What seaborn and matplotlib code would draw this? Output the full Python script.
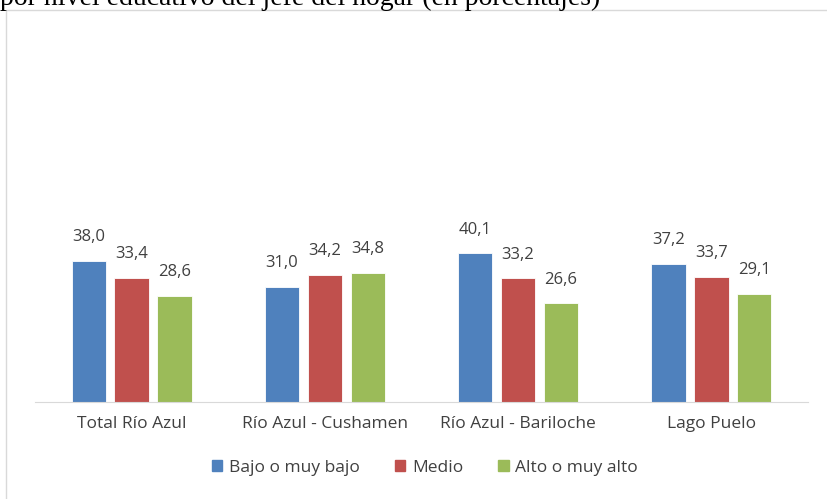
import pandas as pd
import matplotlib.pyplot as plt
import matplotlib.patches as mpatches
import seaborn as sns

# Chart values
zonas = ["Total Río Azul", "Río Azul - Cushamen", "Río Azul - Bariloche", "Lago Puelo"]
niveles = ["Bajo o muy bajo", "Medio", "Alto o muy alto"]
bajo = [38.0, 31.0, 40.1, 37.2]
medio = [33.4, 34.2, 33.2, 33.7]
alto = [28.6, 34.8, 26.6, 29.1]
colores = ["#4F81BD", "#C0504D", "#9BBB59"]

df = pd.DataFrame({"zona": zonas * 3,
                   "nivel": [niveles[0]] * 4 + [niveles[1]] * 4 + [niveles[2]] * 4,
                   "valor": bajo + medio + alto})

sns.set_style("white")
plt.rcParams["font.family"] = ["Open Sans", "DejaVu Sans"]

fig = plt.figure(figsize=(8.27, 4.99), dpi=100)
ax = fig.add_axes([35 / 827, 97 / 499, 773 / 827, 372 / 499])

sns.barplot(data=df, x="zona", y="valor", hue="nivel", palette=colores, saturation=1,
            width=0.665, gap=0.2, ax=ax, legend=False, edgecolor="white", linewidth=0.6)

for cont in ax.containers:
    ax.bar_label(cont, labels=[f"{v:.1f}".replace(".", ",") for v in cont.datavalues],
                 padding=11, fontsize=12, color="#404040")

ax.set_ylim(0, 100)
ax.set_xlim(-0.5, 3.5)
ax.set_xlabel("")
ax.set_ylabel("")
ax.set_yticks([])
ax.tick_params(axis="x", length=0, labelsize=12.5, labelcolor="#404040", pad=10)
for s in ["top", "right", "left"]:
    ax.spines[s].set_visible(False)
ax.spines["bottom"].set_color("#D9D9D9")

handles = [mpatches.Patch(color=c, label=n) for c, n in zip(colores, niveles)]
fig.legend(handles=handles, loc="center", bbox_to_anchor=(425 / 827, 1 - 468 / 499),
           ncol=3, frameon=False, fontsize=12.5, handlelength=0.6, handleheight=0.6,
           handletextpad=0.4, columnspacing=2.0, labelcolor="#404040")

# chart frame and cut-off caption above it
fig.add_artist(mpatches.Rectangle((6 / 827, -0.1), 1.1, 1 - 10 / 499 + 0.1,
                                  transform=fig.transFigure, fill=False,
                                  edgecolor="#D9D9D9", linewidth=1))
fig.text(0.0, 1 - 5 / 499, "por nivel educativo del jefe del hogar (en porcentajes)",
         fontsize=20, family="Liberation Serif", va="baseline", ha="left", color="black")

plt.savefig("out.png", dpi=100)
